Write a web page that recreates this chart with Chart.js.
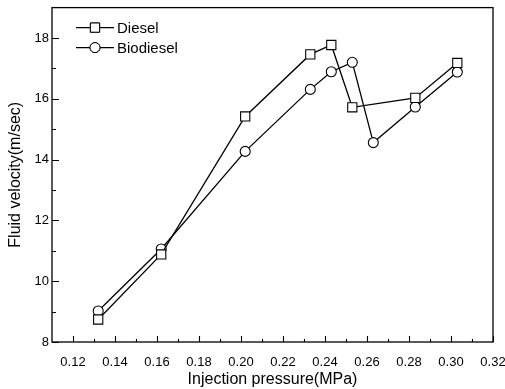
<!DOCTYPE html>
<html>
<head>
<meta charset="utf-8">
<script src="https://cdn.jsdelivr.net/npm/chart.js@4/dist/chart.umd.min.js"></script>
<style>
  html, body { margin: 0; padding: 0; background: #fff; }
  #wrap { width: 505px; height: 389px; }
</style>
</head>
<body>
<div id="wrap"><canvas id="velocityChart"></canvas></div>
<script>
// data
const dieselPressure = [0.132, 0.162, 0.202, 0.233, 0.243, 0.253, 0.283, 0.303];
const dieselVelocity = [8.74, 10.88, 15.42, 17.46, 17.77, 15.72, 16.03, 17.18];
const bioPressure = [0.132, 0.162, 0.202, 0.233, 0.243, 0.253, 0.263, 0.283, 0.303];
const bioVelocity = [9.02, 11.06, 14.27, 16.31, 16.89, 17.2, 14.56, 15.73, 16.88];
const xTicks = [0.12, 0.14, 0.16, 0.18, 0.20, 0.22, 0.24, 0.26, 0.28, 0.30, 0.32];
const yTicks = [8, 10, 12, 14, 16, 18];

const FONT = '"Liberation Sans", Arial, sans-serif';

const toPoints = (xs, ys) => xs.map((x, i) => ({ x: x, y: ys[i] }));

// box, inward ticks and legend
const framePlugin = {
  id: 'frame',
  afterDatasetsDraw(chart) {
    const { ctx, chartArea: a, scales } = chart;
    const xs = scales.x, ys = scales.y;
    ctx.save();
    ctx.strokeStyle = '#000';
    ctx.lineWidth = 1.3;
    ctx.strokeRect(a.left, a.top, a.right - a.left, a.bottom - a.top);

    ctx.lineWidth = 1.1;
    ctx.beginPath();
    for (let i = 0; i < xTicks.length; i++) {
      const px = Math.round(xs.getPixelForValue(xTicks[i])) + 0.5;
      ctx.moveTo(px, a.bottom); ctx.lineTo(px, a.bottom - 6);
      const mid = xTicks[i] + 0.01;
      if (mid < xs.max) {
        const pm = Math.round(xs.getPixelForValue(mid)) + 0.5;
        ctx.moveTo(pm, a.bottom); ctx.lineTo(pm, a.bottom - 3);
      }
    }
    for (let i = 0; i < yTicks.length; i++) {
      const py = Math.round(ys.getPixelForValue(yTicks[i])) + 0.5;
      ctx.moveTo(a.left, py); ctx.lineTo(a.left + 7, py);
      const mid = yTicks[i] + 1;
      if (mid < ys.max) {
        const pm = Math.round(ys.getPixelForValue(mid)) + 0.5;
        ctx.moveTo(a.left, pm); ctx.lineTo(a.left + 4, pm);
      }
    }
    ctx.stroke();

    // legend
    const rows = [
      { label: 'Diesel', style: 'rect', r: 6.5, y: a.top + 20 },
      { label: 'Biodiesel', style: 'circle', r: 5, y: a.top + 40 }
    ];
    const x0 = a.left + 24, x1 = a.left + 62;
    rows.forEach(row => {
      ctx.strokeStyle = '#000';
      ctx.lineWidth = 1.2;
      ctx.beginPath();
      ctx.moveTo(x0, row.y); ctx.lineTo(x1, row.y);
      ctx.stroke();
      ctx.fillStyle = '#fff';
      ctx.lineWidth = 1;
      Chart.helpers.drawPoint(ctx, { pointStyle: row.style, radius: row.r, borderWidth: 1 }, (x0 + x1) / 2, row.y);
      ctx.fill();
      ctx.stroke();
      ctx.fillStyle = '#000';
      ctx.font = '15px ' + FONT;
      ctx.textBaseline = 'middle';
      ctx.textAlign = 'left';
      ctx.fillText(row.label, x1 + 3, row.y + 1);
    });
    ctx.restore();
  }
};

new Chart(document.getElementById('velocityChart'), {
  type: 'scatter',
  data: {
    datasets: [
      {
        label: 'Diesel',
        data: toPoints(dieselPressure, dieselVelocity),
        showLine: true,
        borderColor: '#000',
        borderWidth: 1.3,
        pointStyle: 'rect',
        pointRadius: 6.5,
        pointBackgroundColor: '#fff',
        pointBorderColor: '#000',
        pointBorderWidth: 1.1
      },
      {
        label: 'Biodiesel',
        data: toPoints(bioPressure, bioVelocity),
        showLine: true,
        borderColor: '#000',
        borderWidth: 1.3,
        pointStyle: 'circle',
        pointRadius: 5,
        pointBackgroundColor: '#fff',
        pointBorderColor: '#000',
        pointBorderWidth: 1.1
      }
    ]
  },
  options: {
    responsive: true,
    maintainAspectRatio: false,
    animation: false,
    layout: { padding: { top: 6, right: 12, left: 0, bottom: 0 } },
    plugins: { legend: { display: false }, tooltip: { enabled: false } },
    scales: {
      x: {
        type: 'linear',
        min: 0.11,
        max: 0.32,
        afterBuildTicks(scale) { scale.ticks = xTicks.map(v => ({ value: v })); },
        afterFit(scale) {
          scale.height = 47;
          scale.paddingLeft = 0; scale.paddingRight = 0;
        },
        grid: { display: false },
        border: { display: false },
        ticks: {
          color: '#000',
          font: { family: FONT, size: 13 },
          padding: 5,
          maxRotation: 0,
          callback: v => v.toFixed(2)
        },
        title: {
          display: true,
          text: 'Injection pressure(MPa)',
          color: '#000',
          font: { family: FONT, size: 16 },
          padding: { top: 2, bottom: 0 }
        }
      },
      y: {
        min: 8,
        max: 19,
        afterBuildTicks(scale) { scale.ticks = yTicks.map(v => ({ value: v })); },
        afterFit(scale) {
          scale.width = 52;
          scale.paddingTop = 0; scale.paddingBottom = 0;
        },
        grid: { display: false, drawTicks: false },
        border: { display: false },
        ticks: {
          color: '#000',
          font: { family: FONT, size: 13 },
          padding: 3
        },
        title: {
          display: true,
          text: 'Fluid velocity(m/sec)',
          color: '#000',
          font: { family: FONT, size: 16 },
          padding: { top: 6, bottom: 0 }
        }
      }
    }
  },
  plugins: [framePlugin]
});
</script>
</body>
</html>
